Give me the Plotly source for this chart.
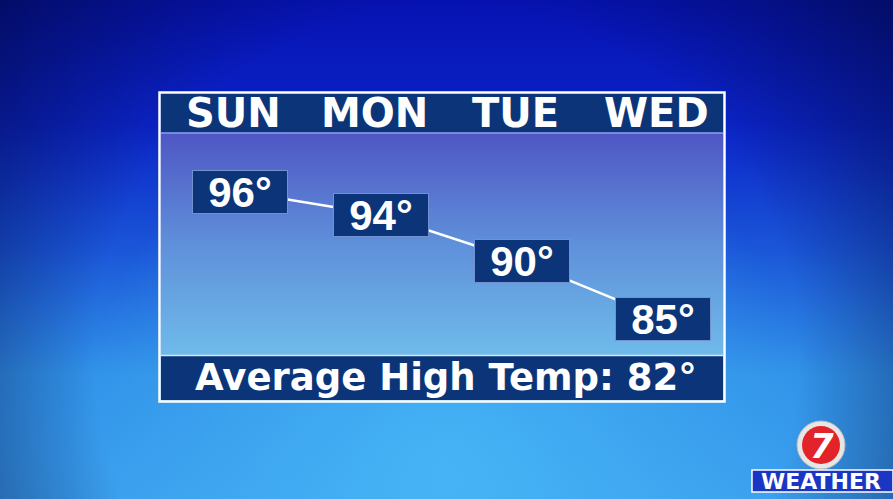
import base64
import plotly.graph_objects as go

# ---- data ----
days = ["SUN", "MON", "TUE", "WED"]
highs = [96, 94, 90, 85]
avg_high = 82

W, H = 893, 499
NAVY = "#0b3578"


def px(x):
    return x / W


def py(y):
    return 1 - y / H


svg = f'''<svg xmlns="http://www.w3.org/2000/svg" width="{W}" height="{H}" viewBox="0 0 {W} {H}" preserveAspectRatio="none">
<defs>
<linearGradient id="bg" x1="0" y1="0" x2="0" y2="1">
<stop offset="0" stop-color="#0612b2"/>
<stop offset="0.25" stop-color="#0b24c8"/>
<stop offset="0.5" stop-color="#1a56d8"/>
<stop offset="0.75" stop-color="#3192e8"/>
<stop offset="1" stop-color="#3a9eee"/>
</linearGradient>
<radialGradient id="glow" cx="446" cy="470" r="380" gradientUnits="userSpaceOnUse">
<stop offset="0" stop-color="#4abcf8" stop-opacity="0.75"/>
<stop offset="1" stop-color="#4abcf8" stop-opacity="0"/>
</radialGradient>
<radialGradient id="vig" cx="446" cy="360" r="640" gradientUnits="userSpaceOnUse">
<stop offset="0.55" stop-color="#020a40" stop-opacity="0"/>
<stop offset="1" stop-color="#020a40" stop-opacity="0.85"/>
</radialGradient>
<linearGradient id="panel" x1="0" y1="0" x2="0" y2="1">
<stop offset="0" stop-color="#4f56c4"/>
<stop offset="0.5" stop-color="#5f90da"/>
<stop offset="1" stop-color="#6fbbea"/>
</linearGradient>
</defs>
<rect width="{W}" height="{H}" fill="url(#bg)"/>
<rect width="{W}" height="{H}" fill="url(#glow)"/>
<rect width="{W}" height="{H}" fill="url(#vig)"/>
<rect x="161" y="133" width="562" height="223" fill="url(#panel)"/>
</svg>'''
svg_uri = "data:image/svg+xml;base64," + base64.b64encode(svg.encode()).decode()

fig = go.Figure()
fig.add_trace(go.Scatter(
    x=list(range(len(days))), y=highs, mode="lines",
    line=dict(color="white", width=2.5), hoverinfo="skip", showlegend=False,
))

shapes = [
    dict(type="rect", xref="paper", yref="paper", x0=px(161), x1=px(723), y0=py(94), y1=py(132),
         fillcolor=NAVY, line=dict(width=0), layer="below"),
    dict(type="rect", xref="paper", yref="paper", x0=px(161), x1=px(723), y0=py(356), y1=py(400),
         fillcolor=NAVY, line=dict(width=0), layer="below"),
    dict(type="line", xref="paper", yref="paper", x0=px(161), x1=px(723), y0=py(133), y1=py(133),
         line=dict(color="#8fa3d6", width=1.5), layer="below"),
    dict(type="line", xref="paper", yref="paper", x0=px(161), x1=px(723), y0=py(355.5), y1=py(355.5),
         line=dict(color="#d5e6f7", width=1.5), layer="below"),
    dict(type="rect", xref="paper", yref="paper", x0=px(159.5), x1=px(724.5), y0=py(92.5), y1=py(401.5),
         fillcolor="rgba(0,0,0,0)", line=dict(color="white", width=2.5), layer="below"),
    # logo
    dict(type="circle", xref="paper", yref="paper", x0=px(797), x1=px(845), y0=py(421), y1=py(469),
         fillcolor="#e6e6e6", line=dict(color="#bbbbbb", width=1), layer="above"),
    dict(type="circle", xref="paper", yref="paper", x0=px(802), x1=px(840), y0=py(426), y1=py(464),
         fillcolor="#e2232a", line=dict(width=0), layer="above"),
    dict(type="rect", xref="paper", yref="paper", x0=px(752), x1=px(893), y0=py(470), y1=py(492),
         fillcolor="#1c36c4", line=dict(color="white", width=1.5), layer="above"),
]

annotations = []
for i, d in enumerate(days):
    annotations.append(dict(
        x=i, y=py(113.5), xref="x", yref="paper", xshift=-6, text=d, showarrow=False,
        xanchor="center", yanchor="middle",
        font=dict(family="DejaVu Sans", size=40, color="white", weight="bold"),
    ))
for i, t in enumerate(highs):
    annotations.append(dict(
        x=i, y=t, xref="x", yref="y", text=f"{t}°", showarrow=False,
        xanchor="center", yanchor="middle", width=92, height=40,
        bgcolor=NAVY, bordercolor="#7390cf", borderwidth=1, borderpad=1,
        font=dict(family="Liberation Sans", size=42, color="white", weight="bold"),
    ))
annotations.append(dict(
    x=px(446), y=py(377), xref="paper", yref="paper", text=f"Average High Temp: {avg_high}°",
    showarrow=False, xanchor="center", yanchor="middle",
    font=dict(family="DejaVu Sans", size=37, color="white", weight="bold"),
))
annotations.append(dict(
    x=px(822), y=py(446), xref="paper", yref="paper", text="7", showarrow=False,
    xanchor="center", yanchor="middle",
    font=dict(family="DejaVu Sans", size=34, color="white", weight="bold", style="italic"),
))
annotations.append(dict(
    x=px(821), y=py(481), xref="paper", yref="paper", text="WEATHER", showarrow=False,
    xanchor="center", yanchor="middle",
    font=dict(family="DejaVu Sans", size=22, color="white", weight="bold"),
))

fig.update_layout(
    width=W, height=H, autosize=False,
    margin=dict(l=0, r=0, t=0, b=0, pad=0),
    paper_bgcolor="#1a4ccc", plot_bgcolor="rgba(0,0,0,0)",
    xaxis=dict(range=[-1.7026, 4.635], visible=False, fixedrange=True),
    yaxis=dict(range=[69.37, 112.61], visible=False, fixedrange=True),
    shapes=shapes, annotations=annotations,
    images=[dict(source=svg_uri, xref="paper", yref="paper", x=0, y=1, sizex=1, sizey=1,
                 xanchor="left", yanchor="top", sizing="stretch", layer="below")],
    showlegend=False,
)

fig.write_html("out.html", config={"displayModeBar": False},
               post_script="document.body.style.margin='0px';")
